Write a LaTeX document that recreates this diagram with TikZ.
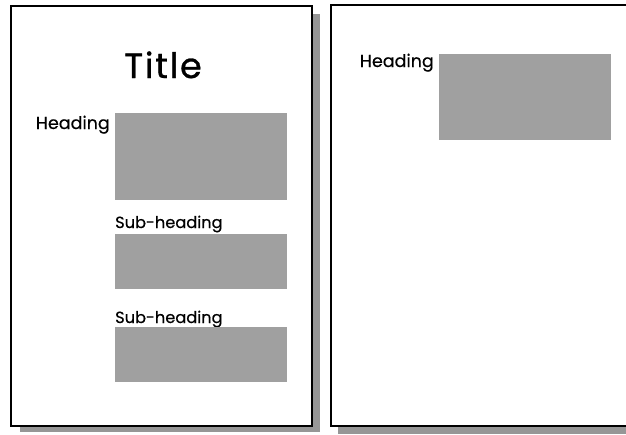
\documentclass[tikz,border=0pt]{standalone}
\usepackage{fontspec}
\setmainfont{Poppins}
\definecolor{blockgray}{RGB}{160,160,160}
\definecolor{shadowgray}{RGB}{150,150,150}
\begin{document}
\begin{tikzpicture}[x=1pt,y=-1pt,
  page/.style={draw=black,line width=1.6pt,fill=white},
  shadow/.style={fill=shadowgray,draw=none},
  block/.style={fill=blockgray,draw=none},
  headtext/.style={inner sep=0pt,font=\fontsize{17.5}{20}\selectfont\addfontfeatures{FakeBold=0.4}},
  subtext/.style={inner sep=0pt,font=\fontsize{16.2}{18}\selectfont\addfontfeatures{FakeBold=0.4}},
  titletext/.style={inner sep=0pt,font=\fontsize{35}{38}\selectfont\addfontfeatures{LetterSpace=5,FakeBold=0.8}}]
\useasboundingbox (0,0) rectangle (626,434);
% shadows
\fill[shadow] (312,14) rectangle (320,432);
\fill[shadow] (20,426) rectangle (320,432);
\fill[shadow] (338,426) rectangle (626,434);
% pages
\draw[page] (11,6) rectangle (312,426);
\draw[page] (331,5) rectangle (640,426);
% left page
\node[titletext,anchor=base] (title) at (163,78) {Title};
\node[headtext,anchor=base east] (h1) at (110,129) {Heading};
\fill[block] (115,113) rectangle (287,200);
\node[subtext,anchor=base west] (s1) at (115,228) {Sub-heading};
\fill[block] (115,234) rectangle (287,289);
\node[subtext,anchor=base west] (s2) at (115,323) {Sub-heading};
\fill[block] (115,327) rectangle (287,382);
% right page
\node[headtext,anchor=base east] (h2) at (434,67) {Heading};
\fill[block] (439,54) rectangle (611,140);
\end{tikzpicture}
\end{document}
